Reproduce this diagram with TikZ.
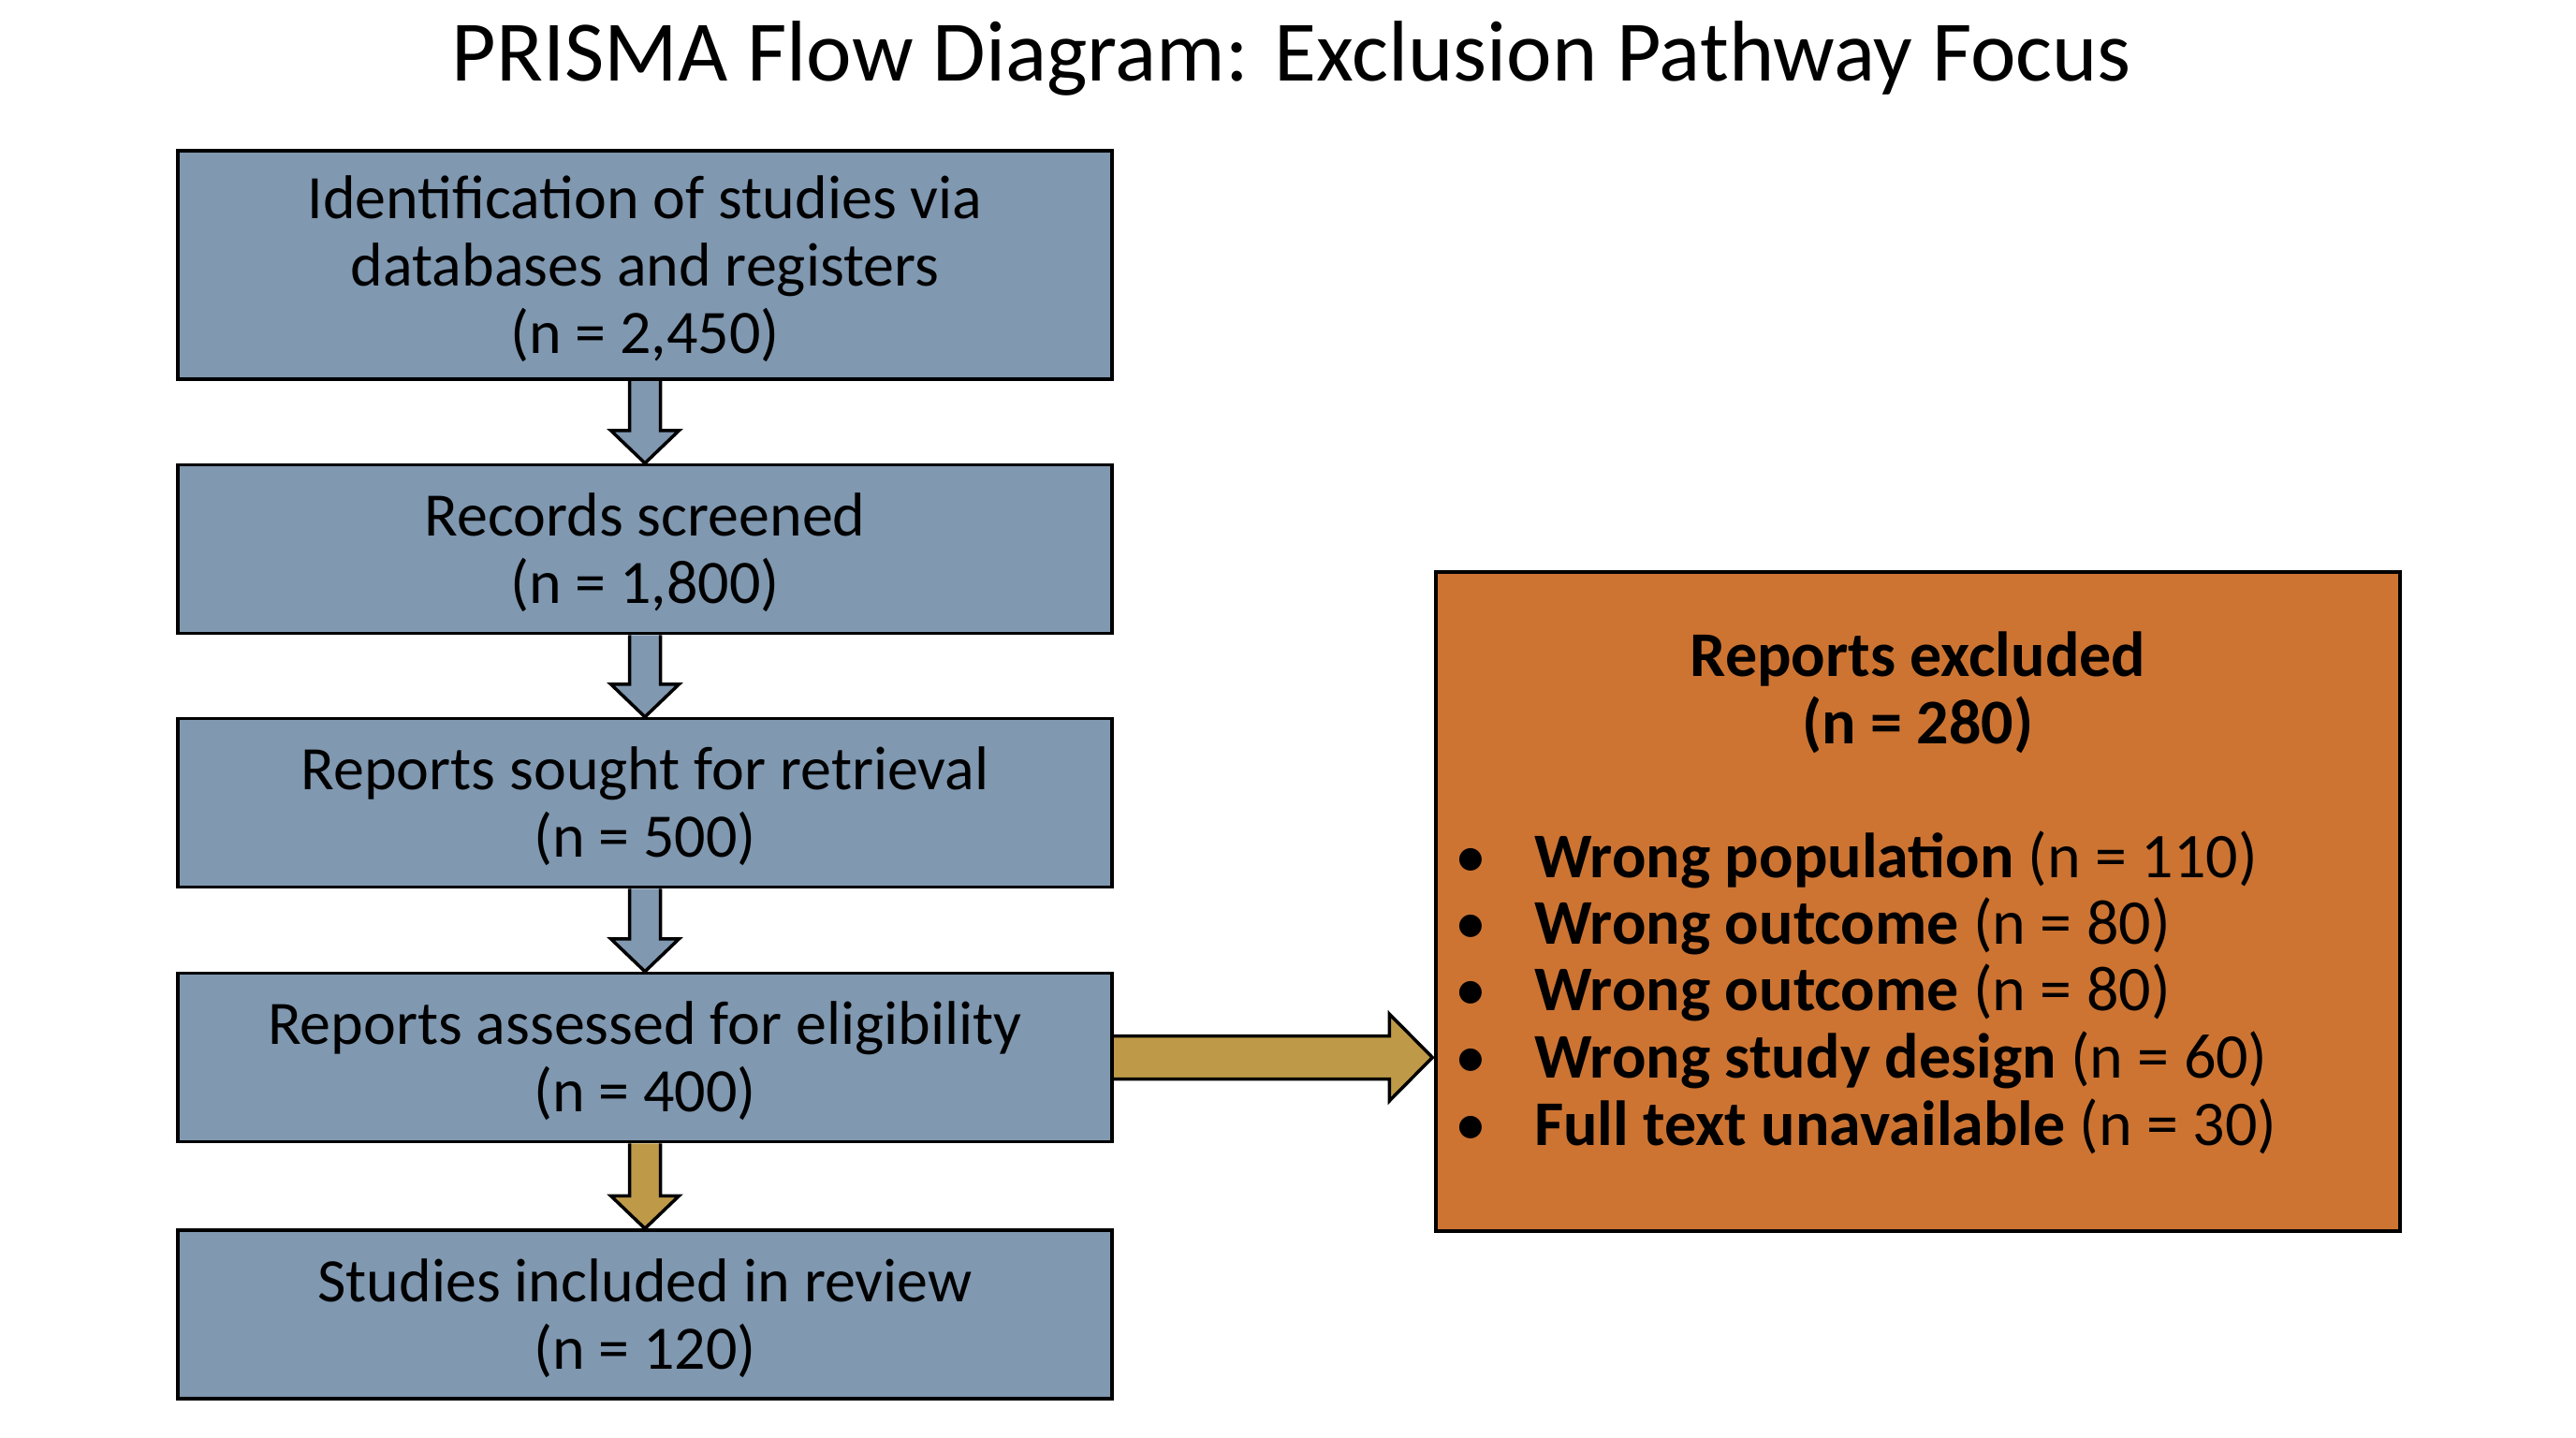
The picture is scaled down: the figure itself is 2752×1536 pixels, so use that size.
\documentclass[tikz,border=0pt]{standalone}
\usepackage{fontspec}
\setmainfont{Carlito}
\usetikzlibrary{calc,backgrounds}
\definecolor{boxblue}{RGB}{128,152,176}
\definecolor{exorange}{RGB}{205,116,50}
\definecolor{arrowgold}{RGB}{190,154,72}
\begin{document}
\begin{tikzpicture}[x=1pt,y=-1pt,
  flowbox/.style={draw=black, line width=3.5pt, fill=boxblue, minimum width=998pt,
    minimum height=180pt, align=center, inner sep=0pt, font=\fontsize{66}{72}\selectfont},
  exbox/.style={draw=black, line width=3.5pt, fill=exorange, minimum width=1030pt,
    minimum height=704pt, inner sep=0pt},
  extext/.style={font=\fontsize{68}{72}\selectfont, inner sep=0pt},
  bluearrow/.style={draw=black, line width=3.5pt, line join=miter, fill=boxblue},
  goldarrow/.style={draw=black, line width=3.5pt, line join=miter, fill=arrowgold}]
\useasboundingbox (0,0) rectangle (2752,1536);

\node[font=\fontsize{92}{100}\selectfont, inner sep=0pt] (title) at (1380,62) {PRISMA Flow Diagram: Exclusion Pathway Focus};

\node[flowbox, minimum height=244pt] (b1) at (689,283) {};
\node[flowbox, minimum height=0pt, fill=none, draw=none] (b1t) at (689,287) {Identification of studies via\\databases and registers\\(n = 2,450)};
\node[flowbox] (b2) at (689,586.5) {};
\node[flowbox, minimum height=0pt, fill=none, draw=none] (b2t) at (689,590) {Records screened\\(n = 1,800)};
\node[flowbox] (b3) at (689,857.5) {};
\node[flowbox, minimum height=0pt, fill=none, draw=none] (b3t) at (689,861) {Reports sought for retrieval\\(n = 500)};
\node[flowbox] (b4) at (689,1129.5) {};
\node[flowbox, minimum height=0pt, fill=none, draw=none] (b4t) at (689,1133) {Reports assessed for eligibility\\(n = 400)};
\node[flowbox] (b5) at (689,1404) {};
\node[flowbox, minimum height=0pt, fill=none, draw=none] (b5t) at (689,1408) {Studies included in review\\(n = 120)};

\node[exbox] (ex) at (2049,963) {};
\node[extext, font=\bfseries\fontsize{68}{72}\selectfont, align=center] (exhead) at (2049,740) {Reports excluded\\(n = 280)};

\node[extext, anchor=base west] (r1) at (1639,937) {\textbf{Wrong population} (n = 110)};
\node[extext, anchor=base west] (r2) at (1639,1008) {\textbf{Wrong outcome} (n = 80)};
\node[extext, anchor=base west] (r3) at (1639,1079) {\textbf{Wrong outcome} (n = 80)};
\node[extext, anchor=base west] (r4) at (1639,1151) {\textbf{Wrong study design} (n = 60)};
\node[extext, anchor=base west] (r5) at (1639,1223) {\textbf{Full text unavailable} (n = 30)};
\foreach \r in {r1,r2,r3,r4,r5}{
  \node[extext, anchor=base] (bul\r) at ($(\r.base west)+(-68,0)$) {\textbullet};
}

\begin{scope}[on background layer]
\fill[white] (0,0) rectangle (2752,1536);
\foreach \a/\b in {b1/b2,b2/b3,b3/b4}{
  \draw[bluearrow] ($(\a.south)+(-16.5,0)$) -- ($(\b.north)+(-16.5,-35)$) -- ($(\b.north)+(-36.5,-35)$)
    -- (\b.north) -- ($(\b.north)+(36.5,-35)$) -- ($(\b.north)+(16.5,-35)$) -- ($(\a.south)+(16.5,0)$);
}
\draw[goldarrow] ($(b4.south)+(-16.5,0)$) -- ($(b5.north)+(-16.5,-35)$) -- ($(b5.north)+(-36.5,-35)$)
    -- (b5.north) -- ($(b5.north)+(36.5,-35)$) -- ($(b5.north)+(16.5,-35)$) -- ($(b4.south)+(16.5,0)$);
\coordinate (tip) at (ex.west |- b4.east);
\draw[goldarrow] ($(b4.east)+(0,-23)$) -- ($(tip)+(-48,-23)$) -- ($(tip)+(-48,-46.5)$) -- ($(tip)+(-2,0)$)
    -- ($(tip)+(-48,46.5)$) -- ($(tip)+(-48,23)$) -- ($(b4.east)+(0,23)$);
\end{scope}
\end{tikzpicture}
\end{document}
